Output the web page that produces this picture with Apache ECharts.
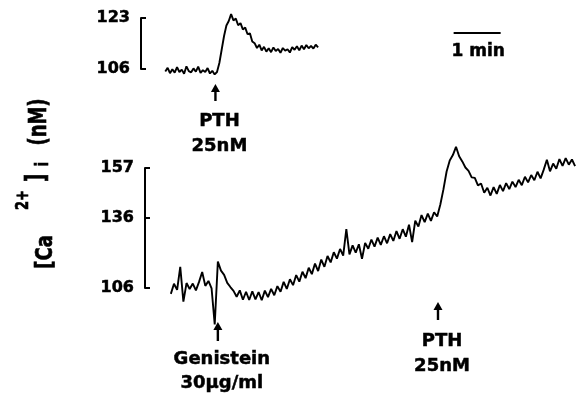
<!DOCTYPE html>
<html>
<head>
<meta charset="utf-8">
<script src="https://cdn.jsdelivr.net/npm/echarts@6/dist/echarts.min.js"></script>
<style>
html,body{margin:0;padding:0;background:#fff;}
#chart{width:579px;height:400px;}
</style>
</head>
<body>
<div id="chart"></div>
<script>
// ---- data (time in s, [Ca2+]i in nM) ----
const topTimeStep = 3;
const topValues = [105.2, 106.4, 104.6, 105.9, 104.8, 106.6, 105.0, 105.8, 104.4, 106.9, 105.3, 104.9, 106.2, 105.1, 106.8, 104.7, 105.6, 105.0, 106.3, 104.5, 105.4, 104.2,
  105.0, 108.0, 112.5, 117.0, 120.5, 122.0, 124.3, 122.2, 122.8, 120.6, 121.3, 119.2, 119.8, 117.6, 117.9, 115.2, 114.6,
  113.0, 114.1, 112.2, 113.4, 111.8, 112.9, 111.6, 113.2, 112.0, 112.7, 111.4, 113.0, 112.1, 112.6, 111.5, 113.3, 112.4, 113.6,
  112.2, 113.8, 112.6, 114.0, 112.9, 113.7, 112.8, 114.1, 113.2];

const bottomTimeStep = 4;
const bottomValues = [103.5, 107.8, 105.2, 115.0, 100.2, 108.1, 105.6, 107.9, 105.0, 108.6, 112.8, 106.9, 109.0, 105.8,
  90.5,
  117.2, 113.4, 111.6, 108.2, 106.4, 104.8,
  102.3, 105.0, 101.0, 104.4, 100.9, 104.6, 101.2, 104.3, 100.8, 104.9,
  102.1, 105.6, 102.9, 106.8, 104.4, 108.6, 105.6, 109.7, 107.2, 111.5,
  108.7, 112.9, 110.2, 114.6, 111.9, 116.4, 113.2, 118.1, 115.0, 119.6,
  116.9, 121.2, 118.5, 122.6, 119.8, 131.0, 120.3, 124.1, 121.0, 124.6,
  118.4, 125.2, 122.7, 126.6, 123.6, 127.4, 124.3, 128.0, 125.0, 128.9,
  126.0, 130.2, 126.9, 131.0, 127.8, 132.9, 125.5, 134.6, 132.1, 137.0,
  134.0, 137.6, 134.5, 138.2, 136.4, 141.5, 148.0, 155.5, 160.2, 162.5,
  166.0, 162.0, 159.8, 157.2, 155.8, 153.0, 152.8, 149.6, 150.4, 146.5,
  148.6, 145.3, 148.9, 146.0, 149.8, 147.2, 150.6, 148.0, 151.2, 148.9,
  152.0, 149.7, 153.3, 150.9, 154.0, 151.8, 155.4, 152.6, 156.3, 160.5,
  155.6, 158.9, 156.7, 160.8, 157.9, 161.2, 158.4, 160.6, 157.8];

const topTicks = [106, 123];
const bottomTicks = [106, 136, 157];

const topEvents = [{ t: 64, lines: ['PTH', '25nM'] }];
const bottomEvents = [
  { t: 60, lines: ['Genistein', '30\u03bcg/ml'] },
  { t: 341, lines: ['PTH', '25nM'] }
];
const scaleBar = { t: 368, length: 60, label: '1 min' };

// ---- build ----
const topData = topValues.map((v, i) => [i * topTimeStep, v]);
const bottomData = bottomValues.map((v, i) => [i * bottomTimeStep, v]);

const FONT = 'DejaVu Sans';
function yAxis(gridIndex, min, max, ticks) {
  return {
    gridIndex, type: 'value', min, max,
    axisLine: { show: true, onZero: false, lineStyle: { color: '#000', width: 2 } },
    axisTick: { show: true, inside: true, length: 5, customValues: ticks, lineStyle: { color: '#000', width: 2 } },
    axisLabel: { show: true, customValues: ticks, margin: 11, color: '#000', fontFamily: FONT, fontWeight: 'bold', fontSize: 16,
      textBorderColor: '#000', textBorderWidth: 0.5 },
    splitLine: { show: false }
  };
}
function xAxis(gridIndex, min, max) {
  return { gridIndex, type: 'value', min, max, show: false, axisLine: { onZero: false }, splitLine: { show: false } };
}

const chart = echarts.init(document.getElementById('chart'), null, { renderer: 'canvas' });
const option = {
  animation: false,
  backgroundColor: '#fff',
  grid: [
    { left: 141, top: 18, width: 438, height: 51 },
    { left: 145, top: 168, width: 434, height: 120 }
  ],
  xAxis: [xAxis(0, -31, 528), xAxis(1, -33, 521)],
  yAxis: [yAxis(0, 106, 123, topTicks), yAxis(1, 106, 157, bottomTicks)],
  series: [
    { type: 'line', xAxisIndex: 0, yAxisIndex: 0, data: topData, showSymbol: false, clip: false,
      lineStyle: { color: '#000', width: 1.9 } },
    { type: 'line', xAxisIndex: 1, yAxisIndex: 1, data: bottomData, showSymbol: false, clip: false,
      lineStyle: { color: '#000', width: 1.9 } }
  ]
};
chart.setOption(option);

// ---- annotations placed from data coordinates ----
const g = [];
function txt(x, y, s, size, extra) {
  return Object.assign({ type: 'text', x, y, silent: true,
    style: { text: s, fill: '#000', stroke: '#000', lineWidth: 0.5,
      font: 'bold ' + size + 'px "' + FONT + '"', align: 'center', verticalAlign: 'middle' } }, extra || {});
}
function arrow(x, tipY, headH, shaftEnd) {
  g.push({ type: 'polygon', silent: true, shape: { points: [[x, tipY], [x - 4.5, tipY + headH], [x + 4.5, tipY + headH]] }, style: { fill: '#000' } });
  g.push({ type: 'rect', silent: true, shape: { x: x - 1.2, y: tipY + headH - 1, width: 2.4, height: shaftEnd - tipY - headH + 1 }, style: { fill: '#000' } });
}
function event(gridIndex, ev, tipY, shaftEnd, textY1, textY2, dx) {
  const x = chart.convertToPixel({ gridIndex }, [ev.t, 120])[0];
  arrow(x, tipY, 8, shaftEnd);
  g.push(txt(x + dx, textY1, ev.lines[0], 18));
  g.push(txt(x + dx, textY2, ev.lines[1], 18));
}
event(0, topEvents[0], 84, 101, 121, 146, 4);
event(1, bottomEvents[0], 322, 341, 359, 383, 4);
event(1, bottomEvents[1], 302, 320, 341, 366, 4);

// scale bar
const sb0 = chart.convertToPixel({ gridIndex: 0 }, [scaleBar.t, 118]);
const sb1 = chart.convertToPixel({ gridIndex: 0 }, [scaleBar.t + scaleBar.length, 118]);
g.push({ type: 'line', silent: true, shape: { x1: sb0[0], y1: 33, x2: sb1[0], y2: 33 }, style: { stroke: '#000', lineWidth: 2.2 } });
g.push(txt((sb0[0] + sb1[0]) / 2 + 1, 52, scaleBar.label, 17));

// y axis title: [Ca2+]i (nM), rotated
const R = Math.PI / 2;
g.push(txt(46, 252, '[Ca', 18, { rotation: R, scaleY: 1.3 }));
g.push(txt(24, 200, '2+', 13, { rotation: R, scaleY: 1.3 }));
g.push(txt(37, 178, ']', 18, { rotation: R, scaleY: 1.45 }));
g.push(txt(44, 164, 'i', 13, { rotation: R, scaleY: 1.3 }));
g.push(txt(40, 122, '(nM)', 18, { rotation: R, scaleY: 1.35 }));

chart.setOption({ graphic: { elements: g } });
</script>
</body>
</html>
